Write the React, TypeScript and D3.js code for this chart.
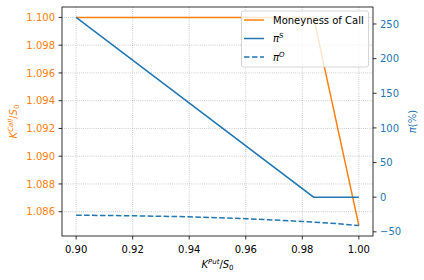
import React from "react";
import * as d3 from "d3";

// x values (K^Put / S0) and series
const kPut = [0.9, 0.984, 1.0];
const callMoneyness = [1.1, 1.1, 1.085];
const piS = [259.5, 0, 0];

const kPutO = [0.9, 0.92, 0.94, 0.96, 0.98, 0.99, 1.0];
const piO = [-26, -26.8, -28.3, -31, -35, -37.5, -41];

const xTicks = [0.9, 0.92, 0.94, 0.96, 0.98, 1.0];
const leftTicks = [1.086, 1.088, 1.09, 1.092, 1.094, 1.096, 1.098, 1.1];
const rightTicks = [-50, 0, 50, 100, 150, 200, 250];

const ORANGE = "#ff7f0e";
const BLUE = "#1f77b4";
const FONT = "DejaVu Sans, sans-serif";

const W = 424;
const H = 280;
const m = { left: 62, right: 373, top: 7, bottom: 236 };

// matplotlib style 5% padding
function padded(vals: number[]): [number, number] {
	const [lo, hi] = d3.extent(vals) as [number, number];
	const p = (hi - lo) * 0.05;
	return [lo - p, hi + p];
}

export default function App() {
	const x = d3.scaleLinear().domain(padded(kPut.concat(kPutO))).range([m.left, m.right]);
	const yL = d3.scaleLinear().domain(padded(callMoneyness)).range([m.bottom, m.top]);
	const yR = d3.scaleLinear().domain(padded(piS.concat(piO))).range([m.bottom, m.top]);

	const lineL = d3
		.line<number>()
		.x((d, i) => x(kPut[i]))
		.y((d) => yL(d));
	const lineS = d3
		.line<number>()
		.x((d, i) => x(kPut[i]))
		.y((d) => yR(d));
	const lineO = d3
		.line<number>()
		.x((d, i) => x(kPutO[i]))
		.y((d) => yR(d));

	const grid = { stroke: "#b0b0b0", strokeWidth: 0.8, strokeDasharray: "0.8,1.32" };

	return (
		<svg
			width={W}
			height={H}
			style={{ position: "absolute", left: 0, top: 0, background: "white" }}
			fontFamily={FONT}
		>
			{/* grid */}
			{xTicks.map((t) => (
				<line key={"gx" + t} x1={x(t)} x2={x(t)} y1={m.top} y2={m.bottom} {...grid} />
			))}
			{leftTicks.map((t) => (
				<line key={"gy" + t} x1={m.left} x2={m.right} y1={yL(t)} y2={yL(t)} {...grid} />
			))}

			{/* lines */}
			<path d={lineL(callMoneyness) || ""} fill="none" stroke={ORANGE} strokeWidth={1.5} />
			<path d={lineS(piS) || ""} fill="none" stroke={BLUE} strokeWidth={1.5} />
			<path
				d={lineO(piO) || ""}
				fill="none"
				stroke={BLUE}
				strokeWidth={1.5}
				strokeDasharray="5.55,2.4"
			/>

			{/* spines */}
			<rect
				x={m.left}
				y={m.top}
				width={m.right - m.left}
				height={m.bottom - m.top}
				fill="none"
				stroke="black"
				strokeWidth={0.8}
			/>

			{/* x axis */}
			{xTicks.map((t) => (
				<g key={"xt" + t}>
					<line x1={x(t)} x2={x(t)} y1={m.bottom} y2={m.bottom + 3.5} stroke="black" strokeWidth={0.8} />
					<text x={x(t)} y={m.bottom + 17} textAnchor="middle" fontSize={10}>
						{t.toFixed(2)}
					</text>
				</g>
			))}
			<text x={(m.left + m.right) / 2} y={268} textAnchor="middle" fontSize={10}>
				<tspan fontStyle="italic">K</tspan>
				<tspan fontStyle="italic" fontSize={7} dy={-4}>
					Put
				</tspan>
				<tspan dy={4}>/</tspan>
				<tspan fontStyle="italic">S</tspan>
				<tspan fontSize={7} dy={2}>
					0
				</tspan>
			</text>

			{/* left axis */}
			{leftTicks.map((t) => (
				<g key={"yl" + t}>
					<line x1={m.left - 3.5} x2={m.left} y1={yL(t)} y2={yL(t)} stroke="black" strokeWidth={0.8} />
					<text x={m.left - 7} y={yL(t) + 3.6} textAnchor="end" fontSize={10} fill={ORANGE}>
						{t.toFixed(3)}
					</text>
				</g>
			))}
			<text
				transform={`translate(17,${(m.top + m.bottom) / 2}) rotate(-90)`}
				textAnchor="middle"
				fontSize={10}
				fill={ORANGE}
			>
				<tspan fontStyle="italic">K</tspan>
				<tspan fontStyle="italic" fontSize={7} dy={-4}>
					Call
				</tspan>
				<tspan dy={4}>/</tspan>
				<tspan fontStyle="italic">S</tspan>
				<tspan fontSize={7} dy={2}>
					0
				</tspan>
			</text>

			{/* right axis */}
			{rightTicks.map((t) => (
				<g key={"yr" + t}>
					<line x1={m.right} x2={m.right + 3.5} y1={yR(t)} y2={yR(t)} stroke="black" strokeWidth={0.8} />
					<text x={m.right + 7} y={yR(t) + 3.6} textAnchor="start" fontSize={10} fill={BLUE}>
						{t < 0 ? "\u2212" + Math.abs(t) : t}
					</text>
				</g>
			))}
			<text
				transform={`translate(416,${(m.top + m.bottom) / 2}) rotate(-90)`}
				textAnchor="middle"
				fontSize={10}
				fill={BLUE}
			>
				<tspan fontStyle="italic">π</tspan>
				<tspan>(%)</tspan>
			</text>

			{/* legend */}
			<g>
				<rect
					x={241.5}
					y={11}
					width={127}
					height={56}
					rx={2}
					fill="white"
					fillOpacity={0.8}
					stroke="#cccccc"
					strokeWidth={0.8}
				/>
				<line x1={244} x2={264} y1={20} y2={20} stroke={ORANGE} strokeWidth={1.5} />
				<text x={273} y={23.5} fontSize={10}>
					Moneyness of Call
				</text>
				<line x1={244} x2={264} y1={38.5} y2={38.5} stroke={BLUE} strokeWidth={1.5} />
				<text x={273} y={42} fontSize={10}>
					<tspan fontStyle="italic">π</tspan>
					<tspan fontStyle="italic" fontSize={7} dy={-4}>
						S
					</tspan>
				</text>
				<line
					x1={244}
					x2={264}
					y1={57}
					y2={57}
					stroke={BLUE}
					strokeWidth={1.5}
					strokeDasharray="5.55,2.4"
				/>
				<text x={273} y={60.5} fontSize={10}>
					<tspan fontStyle="italic">π</tspan>
					<tspan fontStyle="italic" fontSize={7} dy={-4}>
						O
					</tspan>
				</text>
			</g>
		</svg>
	);
}
